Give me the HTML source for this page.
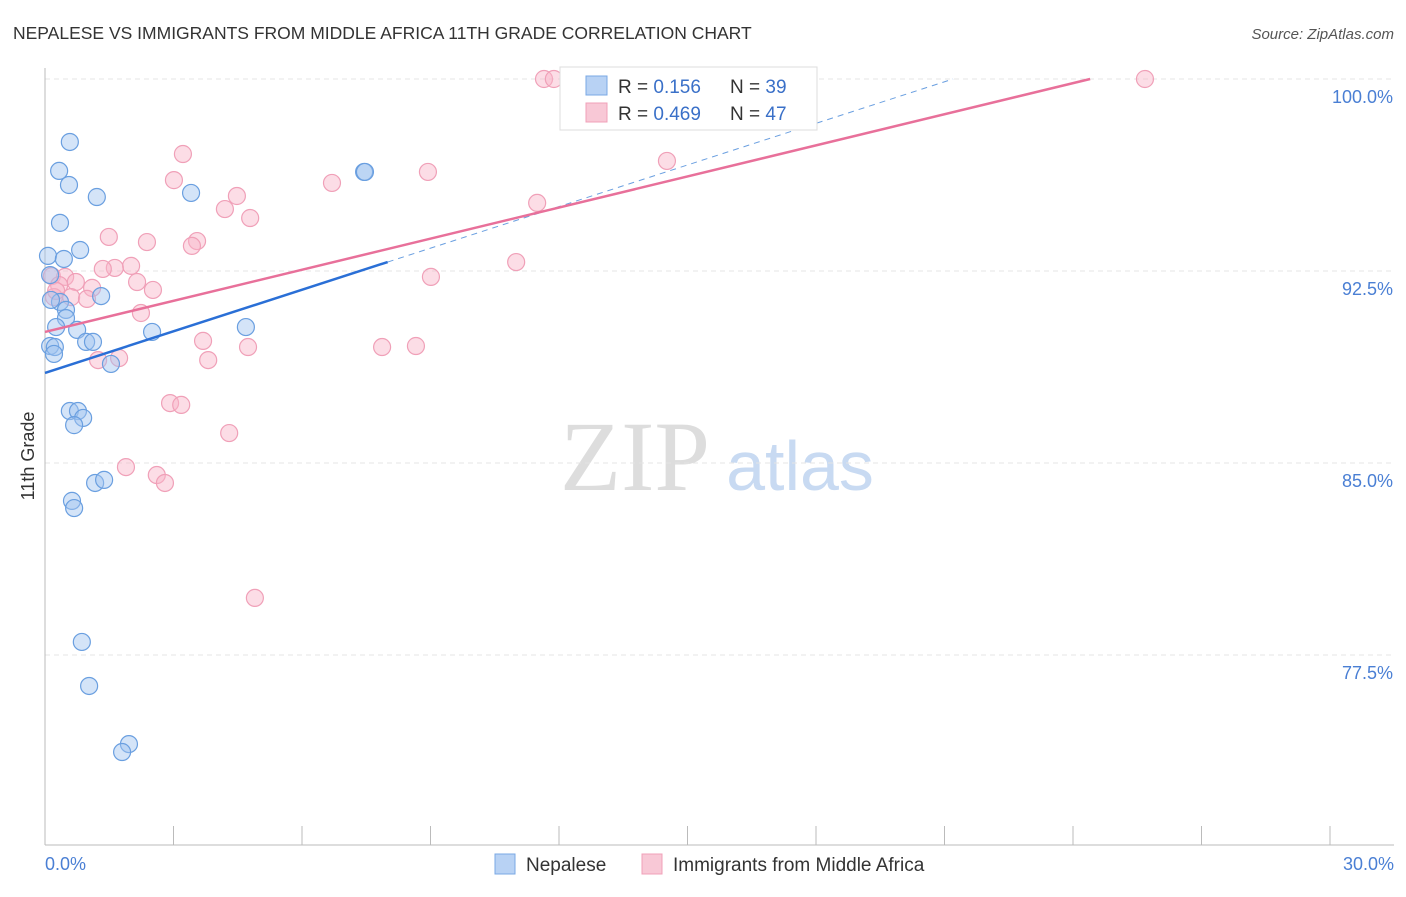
<!DOCTYPE html>
<html><head><meta charset="utf-8"><style>
body{margin:0;background:#fff;font-family:"Liberation Sans",sans-serif;}
svg text{font-family:"Liberation Sans",sans-serif;}
</style></head><body>
<svg id="chart" width="1406" height="892" xmlns="http://www.w3.org/2000/svg">
<text x="13" y="39" font-size="17.5" fill="#333">NEPALESE VS IMMIGRANTS FROM MIDDLE AFRICA 11TH GRADE CORRELATION CHART</text>
<text x="1394" y="39" font-size="15" fill="#555" text-anchor="end" font-style="italic">Source: ZipAtlas.com</text>
<g>
<text x="635" y="490" font-size="100" fill="#ddd" text-anchor="middle" font-family="Liberation Serif, serif" style="font-family:'Liberation Serif',serif">ZIP</text>
<text x="800" y="490" font-size="70" fill="#c8daf2" text-anchor="middle">atlas</text>
</g>
<g id="grid"></g>
<line x1="45" y1="68" x2="45" y2="845" stroke="#bbb"/>
<line x1="45" y1="845" x2="1394" y2="845" stroke="#bbb"/>
<g id="ticks"></g>
<text x="34" y="456" font-size="18" fill="#333" text-anchor="middle" transform="rotate(-90 34 456)">11th Grade</text>
<text x="45" y="870" font-size="18" fill="#4a7fd4">0.0%</text>
<text x="1394" y="870" font-size="18" fill="#4a7fd4" text-anchor="end">30.0%</text>
<g id="points"></g>
<g id="lines"></g>
<g>
<rect x="560" y="67" width="257" height="63" fill="#fff" stroke="#ddd"/>
<rect x="586" y="76" width="21" height="19" fill="#b8d2f4" stroke="#7aa8e4"/>
<rect x="586" y="103" width="21" height="19" fill="#f8c8d6" stroke="#f0a0b8"/>
<text x="618" y="93" font-size="19" fill="#333">R = <tspan fill="#3a70c8"> 0.156</tspan><tspan x="730">N = </tspan><tspan fill="#3a70c8">39</tspan></text>
<text x="618" y="120" font-size="19" fill="#333">R = <tspan fill="#3a70c8">0.469</tspan><tspan x="730">N = </tspan><tspan fill="#3a70c8">47</tspan></text>
</g>
<g>
<rect x="495" y="854" width="20" height="20" fill="#b8d2f4" stroke="#7aa8e4"/>
<text x="526" y="871" font-size="19" fill="#333">Nepalese</text>
<rect x="642" y="854" width="20" height="20" fill="#f8c8d6" stroke="#f0a0b8"/>
<text x="673" y="871" font-size="19" fill="#333">Immigrants from Middle Africa</text>
</g>
</svg>
<script>
const yTicks=[100,92.5,85,77.5];
const yTickLabels=["100.0%","92.5%","85.0%","77.5%"];
const xTicks=[0,3,6,9,12,15,18,21,24,27,30];
const blueX=[0.58,0.33,0.56,1.21,3.41,7.45,7.47,0.35,0.82,0.07,0.44,0.12,0.35,0.14,0.49,1.31,0.49,0.26,0.75,2.50,4.69,0.12,0.23,0.21,0.96,1.12,1.54,0.58,0.77,0.89,0.68,1.17,1.38,0.63,0.68,0.86,1.03,1.96,1.80];
const blueY=[97.54,96.41,95.86,95.39,95.55,96.37,96.37,94.38,93.32,93.09,92.97,92.34,91.29,91.37,90.98,91.52,90.66,90.31,90.20,90.12,90.31,89.57,89.53,89.26,89.73,89.73,88.87,87.03,87.03,86.76,86.48,84.22,84.34,83.52,83.24,78.01,76.29,74.02,73.71];
const pinkX=[11.65,11.88,25.68,3.22,14.52,8.94,3.01,6.70,4.48,4.20,4.79,11.49,1.49,2.38,3.55,3.43,2.01,1.63,1.35,11.00,9.01,0.16,0.47,0.72,0.33,1.10,2.15,2.52,0.21,0.61,0.98,2.24,3.69,4.74,7.87,8.66,1.24,1.73,3.81,2.92,3.18,4.30,1.89,2.61,2.80,4.90,0.26];
const pinkY=[100,100,100,97.07,96.80,96.37,96.05,95.94,95.43,94.92,94.57,95.16,93.83,93.63,93.67,93.48,92.70,92.62,92.58,92.85,92.27,92.30,92.27,92.07,91.95,91.84,92.07,91.76,91.48,91.48,91.41,90.86,89.77,89.53,89.53,89.57,89.02,89.10,89.02,87.34,87.27,86.17,84.84,84.53,84.22,79.73,91.72];
const blueTrend=[0,88.52,8.0,92.85,21.2,100];
const pinkTrend=[0,90.12,24.4,100];
const NS="http://www.w3.org/2000/svg";
function sx(v){return 45+v/30*1285;}
function sy(v){return 79+(100-v)*25.6;}
function mk(tag,attrs,parent){const e=document.createElementNS(NS,tag);for(const k in attrs)e.setAttribute(k,attrs[k]);parent.appendChild(e);return e;}
const grid=document.getElementById('grid');
yTicks.forEach((t,i)=>{
  const l=mk('line',{x1:45,x2:1394,y1:sy(t),y2:sy(t),stroke:'#e4e4e4','stroke-dasharray':'5,4'},grid);
  
  
  const tx=mk('text',{x:1393,y:sy(t)+24,'font-size':18,fill:'#4a7fd4','text-anchor':'end'},grid);
  tx.textContent=yTickLabels[i];
  
  
});
const ticks=document.getElementById('ticks');
xTicks.forEach(t=>{
  const l=mk('line',{x1:sx(t),x2:sx(t),y1:826,y2:845,stroke:'#bbb'},ticks);
  
  
});
const pts=document.getElementById('points');
pinkX.forEach((x,i)=>{
  const c=mk('circle',{cx:sx(x),cy:sy(pinkY[i]),r:8.5,fill:'rgba(248,180,200,0.45)',stroke:'#f0a0b8','stroke-width':1.2},pts);
  
  
});
blueX.forEach((x,i)=>{
  const c=mk('circle',{cx:sx(x),cy:sy(blueY[i]),r:8.5,fill:'rgba(160,196,240,0.45)',stroke:'#6a9fe0','stroke-width':1.2},pts);
  
  
});
const lines=document.getElementById('lines');
const b1=mk('line',{x1:sx(blueTrend[0]),y1:sy(blueTrend[1]),x2:sx(blueTrend[2]),y2:sy(blueTrend[3]),stroke:'#2a6fd6','stroke-width':2.5},lines);


const b2=mk('line',{x1:sx(blueTrend[2]),y1:sy(blueTrend[3]),x2:sx(blueTrend[4]),y2:sy(blueTrend[5]),stroke:'#6a9fe0','stroke-width':1,'stroke-dasharray':'6,5'},lines);


const p1=mk('line',{x1:sx(pinkTrend[0]),y1:sy(pinkTrend[1]),x2:sx(pinkTrend[2]),y2:sy(pinkTrend[3]),stroke:'#e8709a','stroke-width':2.5},lines);


</script>
</body></html>
